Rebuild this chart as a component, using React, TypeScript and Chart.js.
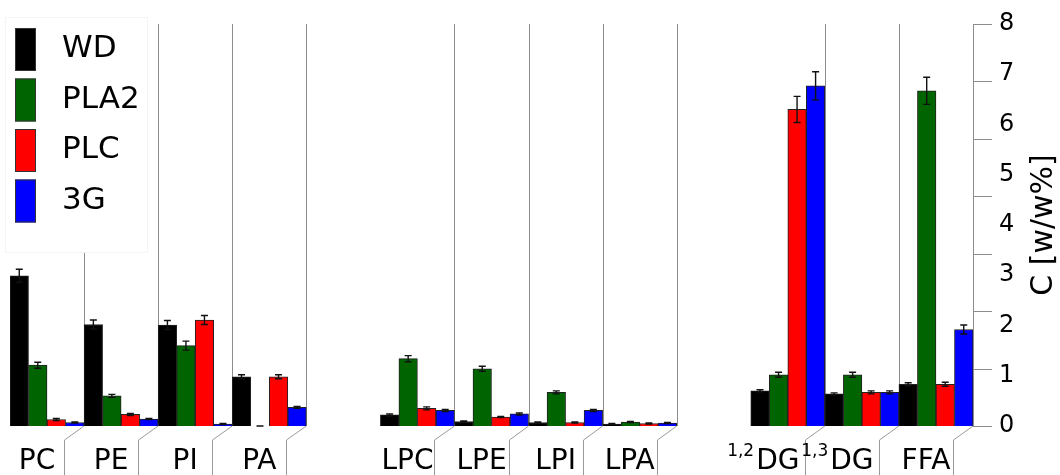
import React, { useEffect, useRef } from 'react';
import { Chart, registerables } from 'chart.js';

Chart.register(...registerables);

// ---------- data ----------
const categories = ['PC', 'PE', 'PI', 'PA', '', 'LPC', 'LPE', 'LPI', 'LPA', '', 'DG', 'DG', 'FFA'];
const categoryPrefixes = ['', '', '', '', '', '', '', '', '', '', '1,2', '1,3', ''];

const seriesNames = ['WD', 'PLA2', 'PLC', '3G'];
const seriesColors = ['#000000', '#006400', '#ff0000', '#0000ff'];

const wdValues = [2.99, 2.02, 2.01, 0.98, null, 0.22, 0.09, 0.07, 0.04, null, 0.7, 0.64, 0.83];
const pla2Values = [1.21, 0.6, 1.6, 0, null, 1.34, 1.14, 0.67, 0.08, null, 1.02, 1.02, 6.67];
const plcValues = [0.13, 0.23, 2.11, 0.98, null, 0.35, 0.18, 0.07, 0.05, null, 6.3, 0.67, 0.83];
const g3Values = [0.07, 0.14, 0.04, 0.37, null, 0.31, 0.24, 0.31, 0.06, null, 6.77, 0.67, 1.92];

const wdErrors = [0.13, 0.09, 0.09, 0.04, null, 0.02, 0.01, 0.01, 0.01, null, 0.02, 0.02, 0.03];
const pla2Errors = [0.06, 0.03, 0.09, 0.0, null, 0.06, 0.05, 0.03, 0.01, null, 0.05, 0.05, 0.27];
const plcErrors = [0.02, 0.02, 0.09, 0.04, null, 0.03, 0.01, 0.01, 0.01, null, 0.26, 0.03, 0.04];
const g3Errors = [0.01, 0.01, 0.01, 0.02, null, 0.02, 0.02, 0.02, 0.01, null, 0.28, 0.03, 0.09];

const yMin = 0;
const yMax = 8;
const yStep = 1;
const yTitle = 'C [w/w%]';
const tickMarkCount = 8;

const seriesValues = [wdValues, pla2Values, plcValues, g3Values];
const seriesErrors = [wdErrors, pla2Errors, plcErrors, g3Errors];

const FONT = "'DejaVu Sans', Verdana, sans-serif";

const decorPlugin = {
  id: 'decor',
  beforeDatasetsDraw(chart: any) {
    const { ctx, chartArea, scales } = chart;
    const x = scales.x;
    const step = x.getPixelForValue(1) - x.getPixelForValue(0);
    ctx.save();
    ctx.strokeStyle = '#8c8c8c';
    ctx.lineWidth = 1;
    categories.forEach((c, i) => {
      if (!c) return;
      const r = Math.round(x.getPixelForValue(i) + step / 2) + 0.5;
      ctx.beginPath();
      ctx.moveTo(r, chartArea.top);
      ctx.lineTo(r, chartArea.bottom);
      ctx.stroke();
    });
    ctx.restore();
  },
  afterDatasetsDraw(chart: any) {
    const { ctx, scales } = chart;
    const y = scales.y;
    ctx.save();
    ctx.strokeStyle = '#111';
    ctx.lineWidth = 1.4;
    seriesErrors.forEach((errs, d) => {
      const meta = chart.getDatasetMeta(d);
      errs.forEach((e, i) => {
        const v = seriesValues[d][i];
        if (v === null || e === null) return;
        const el = meta.data[i];
        if (!el) return;
        const cx = el.x;
        const yt = y.getPixelForValue(v + e);
        const yb = y.getPixelForValue(Math.max(0, v - e));
        ctx.beginPath();
        ctx.moveTo(cx, yt);
        ctx.lineTo(cx, yb);
        ctx.moveTo(cx - 3.5, yt);
        ctx.lineTo(cx + 3.5, yt);
        ctx.moveTo(cx - 3.5, yb);
        ctx.lineTo(cx + 3.5, yb);
        ctx.stroke();
      });
    });
    ctx.restore();
  },
  afterDraw(chart: any) {
    const { ctx, chartArea, scales, height } = chart;
    const x = scales.x;
    const y = scales.y;
    const step = x.getPixelForValue(1) - x.getPixelForValue(0);
    ctx.save();

    // brackets below the axis
    ctx.strokeStyle = '#9a9a9a';
    ctx.lineWidth = 1;
    categories.forEach((c, i) => {
      if (!c) return;
      const r = x.getPixelForValue(i) + step / 2;
      const l = Math.round(r - 20) + 0.5;
      ctx.beginPath();
      ctx.moveTo(r, chartArea.bottom);
      ctx.lineTo(l, chartArea.bottom + 14);
      ctx.lineTo(l, height);
      ctx.stroke();
    });

    // category labels
    ctx.fillStyle = '#000';
    ctx.textBaseline = 'alphabetic';
    categories.forEach((c, i) => {
      if (!c) return;
      const cx = x.getPixelForValue(i) - 10;
      ctx.font = `28px ${FONT}`;
      const w = ctx.measureText(c).width;
      ctx.textAlign = 'left';
      ctx.fillText(c, cx - w / 2, 469);
      const p = categoryPrefixes[i];
      if (p) {
        ctx.font = `17px ${FONT}`;
        ctx.textAlign = 'right';
        ctx.fillText(p, cx - w / 2 - 2, 456);
      }
    });

    // custom tick marks on the right axis
    ctx.strokeStyle = '#8c8c8c';
    ctx.lineWidth = 1;
    for (let k = 0; k < tickMarkCount; k++) {
      const v = yMin + (k * (yMax - yMin)) / (tickMarkCount - 1);
      const py = Math.round(y.getPixelForValue(v)) + 0.5;
      ctx.beginPath();
      ctx.moveTo(chartArea.right, py);
      ctx.lineTo(chartArea.right + 19, py);
      ctx.stroke();
    }

    // axis title (reads bottom to top)
    ctx.save();
    ctx.translate(1044, (chartArea.top + chartArea.bottom) / 2);
    ctx.rotate(-Math.PI / 2);
    ctx.font = `30px ${FONT}`;
    ctx.textAlign = 'center';
    ctx.textBaseline = 'middle';
    ctx.fillStyle = '#000';
    ctx.fillText(yTitle, 0, 0);
    ctx.restore();

    // legend
    ctx.fillStyle = '#fff';
    ctx.fillRect(5, 17, 142, 235);
    ctx.strokeStyle = '#f4f4f4';
    ctx.strokeRect(5.5, 17.5, 142, 235);
    seriesNames.forEach((name, k) => {
      const top = 28 + k * 50.5;
      ctx.fillStyle = seriesColors[k];
      ctx.fillRect(15, top, 21, 43);
      ctx.strokeStyle = '#333';
      ctx.lineWidth = 1;
      ctx.strokeRect(15.5, top + 0.5, 20, 42);
      ctx.fillStyle = '#000';
      ctx.font = `31px ${FONT}`;
      ctx.textAlign = 'left';
      ctx.textBaseline = 'middle';
      ctx.fillText(name, 62, top + 21);
    });

    ctx.restore();
  },
};

export default function App() {
  const canvasRef = useRef<HTMLCanvasElement | null>(null);

  useEffect(() => {
    const canvas = canvasRef.current;
    if (!canvas) return;
    const chart = new Chart(canvas, {
      type: 'bar',
      data: {
        labels: categories.map((c, i) => (categoryPrefixes[i] ? categoryPrefixes[i] + c : c)),
        datasets: seriesNames.map((name, k) => ({
          label: name,
          data: seriesValues[k],
          backgroundColor: seriesColors[k],
          borderColor: '#222',
          borderWidth: 1,
          categoryPercentage: 1,
          barPercentage: 1,
        })),
      },
      options: {
        animation: false,
        responsive: false,
        maintainAspectRatio: false,
        layout: { padding: { left: 10, top: 24, bottom: 49, right: 0 } },
        plugins: {
          legend: { display: false },
          tooltip: { enabled: false },
          title: { display: false },
        },
        scales: {
          x: { display: false, offset: true },
          y: {
            position: 'right',
            min: yMin,
            max: yMax,
            ticks: {
              stepSize: yStep,
              color: '#000',
              padding: 26,
              font: { family: FONT, size: 24 },
            },
            grid: { display: false, drawTicks: false },
            border: { display: true, color: '#8c8c8c', width: 1 },
            afterFit: (s: any) => {
              s.width = 87;
              s.paddingTop = 12;
              s.paddingBottom = 12;
            },
          },
        },
      },
      plugins: [decorPlugin],
    } as any);
    return () => chart.destroy();
  }, []);

  return (
    <div style={{ position: 'absolute', left: 0, top: 0, width: 1060, height: 475, background: '#fff' }}>
      <canvas ref={canvasRef} width={1060} height={475} style={{ display: 'block', width: 1060, height: 475 }} />
    </div>
  );
}
